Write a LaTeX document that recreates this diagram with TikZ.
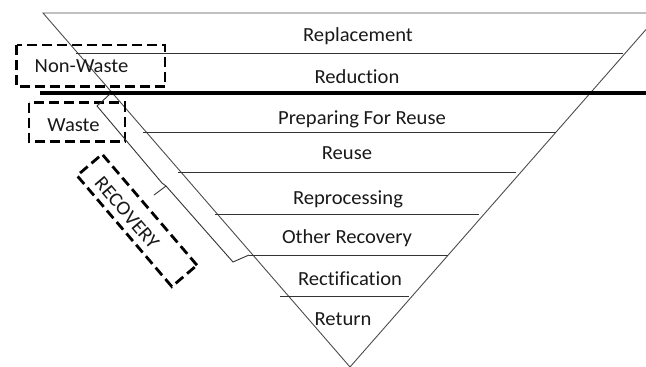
\documentclass[tikz,border=0pt]{standalone}
\usepackage{fontspec}
\setmainfont{Carlito}[FakeStretch=1.03,Ligatures=NoCommon]
\begin{document}
\begin{tikzpicture}[x=1pt,y=-1pt,
  lbl/.style={font=\fontsize{20}{24}\selectfont, anchor=base, inner sep=0pt, text=black!90},
  tri/.style={draw=black!70, line width=0.9pt},
  sepline/.style={draw=black!80, line width=0.9pt},
  dbox/.style={draw=black, line width=2.8pt, dash pattern=on 10pt off 5pt},
  brc/.style={draw=black!80, line width=0.9pt, line join=miter}]
\useasboundingbox (0,0) rectangle (646,367);
% triangle
\coordinate (tl) at (43,13);
\coordinate (tr) at (646,13);
\coordinate (apex) at (350,367);
\coordinate (rtop) at (646,29.5);
\draw[tri] (tr) -- (tl) -- (apex) -- (rtop);
% separators
\coordinate (s1l) at (76,53);   \coordinate (s1r) at (623,53);
\coordinate (thl) at (40,93);   \coordinate (thr) at (646,93);
\coordinate (s2l) at (143,132); \coordinate (s2r) at (556,132);
\coordinate (s3l) at (178,172); \coordinate (s3r) at (516,172);
\coordinate (s4l) at (215,214); \coordinate (s4r) at (479,214);
\coordinate (s5l) at (249,255); \coordinate (s5r) at (448,255);
\coordinate (s6l) at (280,296); \coordinate (s6r) at (409,296);
\draw[sepline] (s1l) -- (s1r);
\draw[black, line width=4pt] (thl) -- (thr);
\draw[sepline] (s2l) -- (s2r);
\draw[sepline] (s3l) -- (s3r);
\draw[sepline] (s4l) -- (s4r);
\draw[sepline] (s5l) -- (s5r);
\draw[sepline] (s6l) -- (s6r);
% labels
\node[lbl] (l1) at (358,41) {Replacement};
\node[lbl] (l2) at (357,83) {Reduction};
\node[lbl] (l3) at (362,124) {Preparing For Reuse};
\node[lbl] (l4) at (347,159) {Reuse};
\node[lbl] (l5) at (348,204) {Reprocessing};
\node[lbl] (l6) at (347,243) {Other Recovery};
\node[lbl] (l7) at (350,285) {Rectification};
\node[lbl] (l8) at (343,325) {Return};
% dashed boxes
\draw[dbox] (16.5,45) rectangle (165,86.5);
\node[lbl] (nw) at (81.5,72.5) {Non-Waste};
\draw[dbox] (29,102.5) rectangle (125,141.5);
\node[lbl] (w) at (73.5,131.5) {Waste};
\node[dbox, rotate=-49.5, minimum width=146pt, minimum height=33pt, inner sep=0pt] (recbox) at (137,220.4) {};
\node[font=\fontsize{20}{24}\selectfont, rotate=-49.5, inner sep=0pt, text=black!90] (rec) at (127,213) {RECOVERY};
% brace
\coordinate (ba) at (110,94);
\coordinate (bb) at (97,106);
\coordinate (bc) at (162,183);
\coordinate (bm) at (166,186);
\coordinate (bt) at (154,195);
\coordinate (bf) at (233,262);
\coordinate (bg) at (249,255);
\draw[brc] (ba) -- (bb) -- (bc) -- (bm) -- (bf) -- (bg);
\draw[brc] (bm) -- (bt);
\end{tikzpicture}
\end{document}
